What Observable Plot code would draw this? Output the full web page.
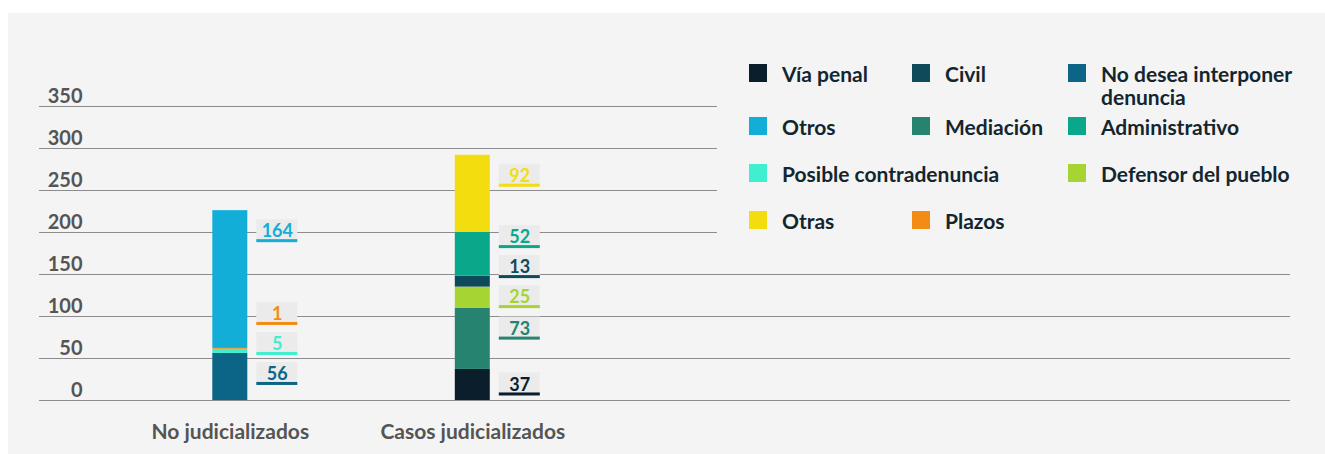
<!DOCTYPE html>
<html><head><meta charset="utf-8">
<script src="https://cdn.jsdelivr.net/npm/d3@7"></script>
<script src="https://cdn.jsdelivr.net/npm/@observablehq/plot@0.6"></script>
<style>
html,body{margin:0;padding:0;background:#fff;}
body{width:1325px;height:454px;position:relative;overflow:hidden;font-family:Lato,"Noto Sans",sans-serif;}
#panel{position:absolute;left:8px;top:13px;right:0;bottom:0;background:#f4f4f4;}
#chart{position:absolute;left:0;top:0;}
#legend{position:absolute;left:717px;top:40px;width:608px;height:210px;background:#f4f4f4;}
#legend .grid{position:absolute;left:32px;top:21.5px;display:grid;grid-template-columns:163px 156px 240px;grid-template-rows:53px 47px 47px 47px;}
#legend .item{display:flex;align-items:flex-start;}
#legend .sw{width:18px;height:18px;flex:none;margin-top:2.5px;margin-right:15px;}
#legend .lbl{font-weight:700;font-size:21px;line-height:23px;color:#13262f;}
</style>
</head><body>
<div id="panel"></div>
<div id="chart"></div>
<div id="legend"><div class="grid"></div></div>
<script>
const categories = ["No judicializados", "Casos judicializados"];
const seriesNames = ["Vía penal", "Civil", "No desea interponer denuncia", "Otros", "Mediación", "Administrativo", "Posible contradenuncia", "Defensor del pueblo", "Otras", "Plazos"];
const seriesColors = ["#0a1f2b", "#0d4a5a", "#0c6587", "#13aed8", "#258370", "#0aa88a", "#40efd0", "#a6d433", "#f4dd0f", "#f28c14"];
const noJudSeries = ["No desea interponer denuncia", "Posible contradenuncia", "Plazos", "Otros"];
const noJudValues = [56, 5, 1, 164];
const casosSeries = ["Vía penal", "Mediación", "Defensor del pueblo", "Civil", "Administrativo", "Otras"];
const casosValues = [37, 73, 25, 13, 52, 92];
const yTicks = [0, 50, 100, 150, 200, 250, 300, 350];

const colorOf = Object.fromEntries(seriesNames.map((s, i) => [s, seriesColors[i]]));

const W = 1325, H = 454, mT = 106, mB = 54, mL = 39, mR = 35;
const k = (H - mT - mB) / 350; // px per unit
const gap = 30 / k, floor = 18, topPad = 21 / k;

function buildRows(cat, names, vals) {
  let acc = 0;
  const rows = names.map((s, i) => {
    const r = {cat, series: s, value: vals[i], y1: acc, y2: acc + vals[i], color: colorOf[s]};
    acc += vals[i];
    return r;
  });
  // label layout: target near the segment (middle, or just under its top), pushed upward to avoid overlap
  let prev = -Infinity;
  rows.forEach(r => {
    const target = Math.max((r.y1 + r.y2) / 2, r.y2 - topPad);
    r.ly = Math.max(target, floor, prev + gap);
    prev = r.ly;
  });
  return rows;
}
const rows = [...buildRows(categories[0], noJudSeries, noJudValues), ...buildRows(categories[1], casosSeries, casosValues)];

const plot = Plot.plot({
  width: W, height: H,
  marginTop: mT, marginBottom: mB, marginLeft: mL, marginRight: mR,
  style: {background: "transparent", fontFamily: "Lato, 'Noto Sans', sans-serif", color: "#555"},
  x: {domain: categories, range: [212.3, 489.8], paddingInner: 0.8557, paddingOuter: 0, round: false},
  y: {domain: [0, 350]},
  color: {domain: seriesNames, range: seriesColors},
  marks: [
    Plot.ruleY(yTicks, {stroke: "#8c8c8c", strokeWidth: 1.2}),
    Plot.axisY({ticks: yTicks, tickSize: 0, tickPadding: -43, dy: -10, fontSize: 20, fontWeight: 700, fill: "#555", label: null}),
    Plot.axisX({tickSize: 0, tickPadding: 24, fontSize: 21, fontWeight: 700, fill: "#555", label: null}),
    Plot.barY(rows, {x: "cat", y1: "y1", y2: "y2", fill: "series"}),
    Plot.barY(rows, {x: "cat", y1: d => d.ly - 11 / k, y2: d => d.ly + 12 / k, fill: "#ebebeb", dx: 47, insetLeft: -3, insetRight: -3}),
    Plot.barY(rows, {x: "cat", y1: d => d.ly - 11 / k, y2: d => d.ly - 8 / k, fill: "series", dx: 47, insetLeft: -3, insetRight: -3}),
    Plot.text(rows, {x: "cat", y: "ly", text: d => String(d.value), fill: "series", dx: 47, fontSize: 18, fontWeight: 700})
  ]
});
document.getElementById("chart").appendChild(plot);

// legend
const legendOrder = ["Vía penal", "Civil", "No desea interponer denuncia", "Otros", "Mediación", "Administrativo", "Posible contradenuncia", "Defensor del pueblo", "Otras", "Plazos"];
const grid = document.querySelector("#legend .grid");
legendOrder.forEach(s => {
  const it = document.createElement("div");
  it.className = "item";
  if (s === "Posible contradenuncia") it.style.gridColumn = "1 / span 2";
  it.innerHTML = `<div class="sw" style="background:${colorOf[s]}"></div><div class="lbl">${s}</div>`;
  grid.appendChild(it);
});
</script>
</body></html>
